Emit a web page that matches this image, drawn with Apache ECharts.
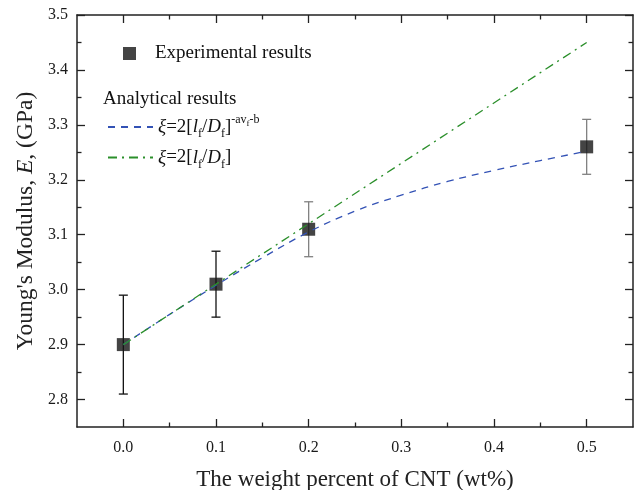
<!DOCTYPE html>
<html>
<head>
<meta charset="utf-8">
<script src="https://cdn.jsdelivr.net/npm/echarts@6/dist/echarts.min.js"></script>
<style>html,body{margin:0;padding:0;background:#fff}#c{width:638px;height:490px}</style>
</head>
<body>
<div id="c"></div>
<script>
// ---- data ----
const expX = [0, 0.1, 0.2, 0.5];
const expY = [2.90, 3.01, 3.11, 3.26];
const errLow = [2.81, 2.95, 3.06, 3.21];
const errHigh = [2.99, 3.07, 3.16, 3.31];
const errColor = ['#111111', '#111111', '#808080', '#808080'];
const blueX = [0, 0.05, 0.1, 0.15, 0.2, 0.25, 0.3, 0.35, 0.4, 0.45, 0.5];
const blueY = [2.900, 2.955, 3.008, 3.058, 3.105, 3.143, 3.172, 3.197, 3.217, 3.235, 3.252];
const greenX = [0, 0.5];
const greenY = [2.90, 3.45];
const xMajor = [0, 0.1, 0.2, 0.3, 0.4, 0.5];
const xMinor = [0.05, 0.15, 0.25, 0.35, 0.45];
const yMajor = [2.8, 2.9, 3.0, 3.1, 3.2, 3.3, 3.4, 3.5];
const yMinor = [2.85, 2.95, 3.05, 3.15, 3.25, 3.35, 3.45];
const nameExp = 'Experimental results';
const nameBlue = 'blue';
const nameGreen = 'green';

const FONT = 'Liberation Serif';
const XMIN = -0.05, XMAX = 0.55, YMIN = 2.75, YMAX = 3.5;
const AX = '#222';

function xAx(pos, vals, len, labels, line) {
  return {
    type: 'value', position: pos, min: XMIN, max: XMAX,
    axisLine: {show: line, onZero: false, lineStyle: {color: AX, width: 1.5}},
    axisTick: {show: true, inside: true, length: len, customValues: vals, lineStyle: {color: AX, width: 1.3}},
    axisLabel: labels ? {show: true, customValues: xMajor, margin: 13, fontFamily: FONT, fontSize: 16, color: '#1a1a1a',
      formatter: v => v.toFixed(1)} : {show: false},
    splitLine: {show: false}
  };
}
function yAx(pos, vals, len, labels, line) {
  return {
    type: 'value', position: pos, min: YMIN, max: YMAX,
    axisLine: {show: line, onZero: false, lineStyle: {color: AX, width: 1.5}},
    axisTick: {show: true, inside: true, length: len, customValues: vals, lineStyle: {color: AX, width: 1.3}},
    axisLabel: labels ? {show: true, customValues: yMajor, margin: 9, fontFamily: FONT, fontSize: 16, color: '#1a1a1a',
      formatter: v => v.toFixed(1)} : {show: false},
    splitLine: {show: false}
  };
}

const xAxes = [
  xAx('bottom', xMajor, 8, true, true),
  xAx('bottom', xMinor, 4.5, false, false),
  xAx('top', xMajor, 8, false, true),
  xAx('top', xMinor, 4.5, false, false)
];
xAxes[0].name = 'The weight percent of CNT (wt%)';
xAxes[0].nameLocation = 'middle';
xAxes[0].nameGap = 41;
xAxes[0].nameTextStyle = {fontFamily: FONT, fontSize: 23, color: '#222'};

const yAxes = [
  yAx('left', yMajor, 8, true, true),
  yAx('left', yMinor, 4.5, false, false),
  yAx('right', yMajor, 8, false, true),
  yAx('right', yMinor, 4.5, false, false)
];
yAxes[0].name = "Young's Modulus, {i|E}, (GPa)";
yAxes[0].nameLocation = 'middle';
yAxes[0].nameGap = 39;
yAxes[0].nameMoveOverlap = false;
yAxes[0].nameTextStyle = {fontFamily: FONT, fontSize: 23.5, color: '#222',
  rich: {i: {fontFamily: FONT, fontSize: 23.5, fontStyle: 'italic', color: '#222'}}};

const richLeg = {
  m: {fontFamily: FONT, fontSize: 19, color: '#111', lineHeight: 26, verticalAlign: 'middle'},
  i: {fontFamily: FONT, fontSize: 19, color: '#111', fontStyle: 'italic', lineHeight: 26, verticalAlign: 'middle'},
  s: {fontFamily: FONT, fontSize: 12, color: '#111', lineHeight: 13, verticalAlign: 'bottom'},
  p: {fontFamily: FONT, fontSize: 12, color: '#111', lineHeight: 13, verticalAlign: 'top'},
  pf: {fontFamily: FONT, fontSize: 9, color: '#111', lineHeight: 13, verticalAlign: 'top', padding: [5, 0, 0, 0]}
};
const legLabels = {};
legLabels[nameBlue] = '{i|ξ}{m|=2[}{i|l}{s|f}{m|/}{i|D}{s|f}{m|]}{p|-av}{pf|f}{p|-b}';
legLabels[nameGreen] = '{i|ξ}{m|=2[}{i|l}{s|f}{m|/}{i|D}{s|f}{m|]}';

const chart = echarts.init(document.getElementById('c'), null, {renderer: 'canvas'});
chart.setOption({
  animation: false,
  backgroundColor: '#fff',
  grid: {left: 77, right: 5, top: 15, bottom: 63, containLabel: false, outerBoundsMode: 'none'},
  xAxis: xAxes,
  yAxis: yAxes,
  legend: [
    {data: [nameExp], left: 118, top: 39, icon: 'rect', itemWidth: 13, itemHeight: 13,
     textStyle: {fontFamily: FONT, fontSize: 19, color: '#111', padding: [0, 0, 0, 14]}},
    {data: [nameBlue, nameGreen], orient: 'vertical', left: 102, top: 109, itemWidth: 45, itemHeight: 14, itemGap: 8,
     formatter: n => legLabels[n],
     itemStyle: {color: 'rgba(0,0,0,0)', borderWidth: 0, opacity: 0},
     textStyle: {fontFamily: FONT, fontSize: 19, color: '#111', rich: richLeg}}
  ],
  graphic: [
    {type: 'text', left: 103, top: 90, style: {text: 'Analytical results', font: '19px "Liberation Serif"', fill: '#111'}}
  ],
  series: [
    {
      type: 'custom', name: 'err', xAxisIndex: 0, yAxisIndex: 0, z: 2,
      data: expX.map((x, i) => [x, errLow[i], errHigh[i]]),
      renderItem: function (params, api) {
        const x = api.value(0), lo = api.value(1), hi = api.value(2);
        const a = api.coord([x, lo]), b = api.coord([x, hi]);
        const w = 4.5, c = errColor[params.dataIndex];
        const st = {stroke: c, lineWidth: 1.3};
        return {type: 'group', children: [
          {type: 'line', shape: {x1: a[0], y1: a[1], x2: b[0], y2: b[1]}, style: st},
          {type: 'line', shape: {x1: a[0] - w, y1: a[1], x2: a[0] + w, y2: a[1]}, style: st},
          {type: 'line', shape: {x1: b[0] - w, y1: b[1], x2: b[0] + w, y2: b[1]}, style: st}
        ]};
      }
    },
    {
      type: 'scatter', name: nameExp, xAxisIndex: 0, yAxisIndex: 0, z: 3,
      symbol: 'rect', symbolSize: 13, itemStyle: {color: '#151515'},
      data: expX.map((x, i) => [x, expY[i]])
    },
    {
      type: 'line', name: nameBlue, xAxisIndex: 0, yAxisIndex: 0, z: 4, smooth: 0.4,
      symbol: 'none', showSymbol: false,
      lineStyle: {color: '#3352b5', width: 1.3, type: [7, 6]},
      itemStyle: {color: '#3352b5'},
      data: blueX.map((x, i) => [x, blueY[i]])
    },
    {
      type: 'line', name: nameGreen, xAxisIndex: 0, yAxisIndex: 0, z: 4,
      symbol: 'none', showSymbol: false,
      lineStyle: {color: '#2b8f2b', width: 1.3, type: [9, 5, 2, 5]},
      itemStyle: {color: '#2b8f2b'},
      data: greenX.map((x, i) => [x, greenY[i]])
    }
  ]
});
</script>
</body>
</html>
